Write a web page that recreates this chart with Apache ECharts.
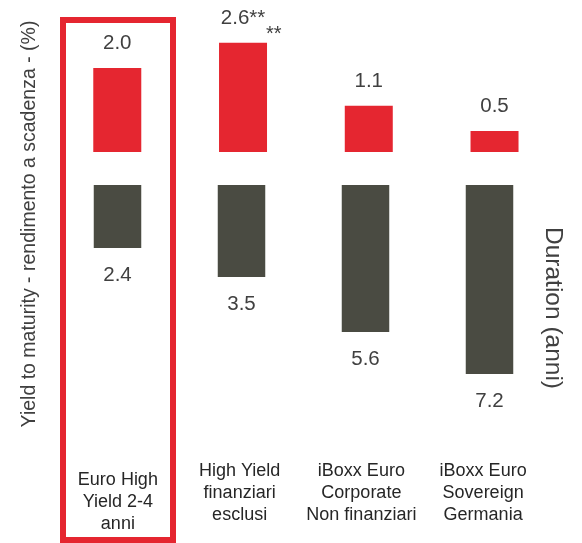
<!DOCTYPE html>
<html>
<head>
<meta charset="utf-8">
<script src="https://cdn.jsdelivr.net/npm/echarts@6/dist/echarts.min.js"></script>
<style>
html,body{margin:0;padding:0;background:#fff;}
#chart{width:582px;height:543px;}
</style>
</head>
<body>
<div id="chart"></div>
<script>
const categories = ['Euro High\nYield 2-4\nanni', 'High Yield\nfinanziari\nesclusi', 'iBoxx Euro\nCorporate\nNon finanziari', 'iBoxx Euro\nSovereign\nGermania'];
const yieldValues = [2.0, 2.6, 1.1, 0.5];
const yieldLabels = ['2.0', '2.6**', '1.1', '0.5'];
const durationValues = [2.4, 3.5, 5.6, 7.2];
const yLeftName = 'Yield to maturity - rendimento a scadenza - (%)';
const yRightName = 'Duration (anni)';
const footnoteMark = '**';

const RED = '#e52630';
const GRAY = '#4a4b42';
const TXT = '#404040';
const FONT = "'Liberation Sans', Arial, sans-serif";

const chart = echarts.init(document.getElementById('chart'), null, {renderer: 'canvas'});
const option = {
  animation: false,
  backgroundColor: '#fff',
  textStyle: {fontFamily: FONT},
  grid: [
    {left: 54.4, width: 503, top: 26, height: 126},
    {left: 55.5, width: 496, top: 185, height: 210},
    {left: 57, width: 487, top: 185, height: 210}
  ],
  xAxis: [
    {type: 'category', gridIndex: 0, data: categories, show: false},
    {type: 'category', gridIndex: 1, data: categories, show: false},
    {type: 'category', gridIndex: 2, position: 'bottom',
      data: categories.map((c, i) => i === 0 ? {value: c, textStyle: {padding: [9, 0, 0, 0]}} : c),
      axisLine: {show: false}, axisTick: {show: false}, splitLine: {show: false},
      axisLabel: {interval: 0, margin: 65, fontSize: 18, lineHeight: 22, color: '#262626', fontFamily: FONT, verticalAlign: 'top'}}
  ],
  yAxis: [
    {type: 'value', gridIndex: 0, min: 0, max: 3, show: false},
    {type: 'value', gridIndex: 1, min: 0, max: 8, inverse: true, show: false},
    {type: 'value', gridIndex: 2, min: 0, max: 8, show: false}
  ],
  series: [
    {type: 'bar', xAxisIndex: 0, yAxisIndex: 0, data: yieldValues, barWidth: 48,
      itemStyle: {color: RED},
      label: {show: true, position: 'top', distance: 14, fontSize: 20.5, color: TXT, fontFamily: FONT,
        formatter: p => yieldLabels[p.dataIndex]}},
    {type: 'bar', xAxisIndex: 1, yAxisIndex: 1, data: durationValues, barWidth: 47.5,
      itemStyle: {color: GRAY},
      label: {show: true, position: 'bottom', distance: 17, fontSize: 20.5, color: TXT, fontFamily: FONT,
        formatter: p => p.value.toFixed(1)}}
  ],
  graphic: [
    {type: 'rect', z: -1, shape: {x: 63, y: 20, width: 110, height: 520},
      style: {fill: 'none', stroke: RED, lineWidth: 6}},
    {type: 'text', x: 30, y: 224, rotation: Math.PI / 2,
      style: {text: yLeftName, fontSize: 19.5, fontFamily: FONT, fill: TXT, align: 'center', verticalAlign: 'middle'}},
    {type: 'text', x: 552.5, y: 308, rotation: -Math.PI / 2,
      style: {text: yRightName, fontSize: 24.5, fontFamily: FONT, fill: TXT, align: 'center', verticalAlign: 'middle'}},
    {type: 'text', x: 266, y: 24,
      style: {text: footnoteMark, fontSize: 20, fontFamily: FONT, fill: TXT, align: 'left', verticalAlign: 'top'}}
  ]
};
chart.setOption(option);
</script>
</body>
</html>
